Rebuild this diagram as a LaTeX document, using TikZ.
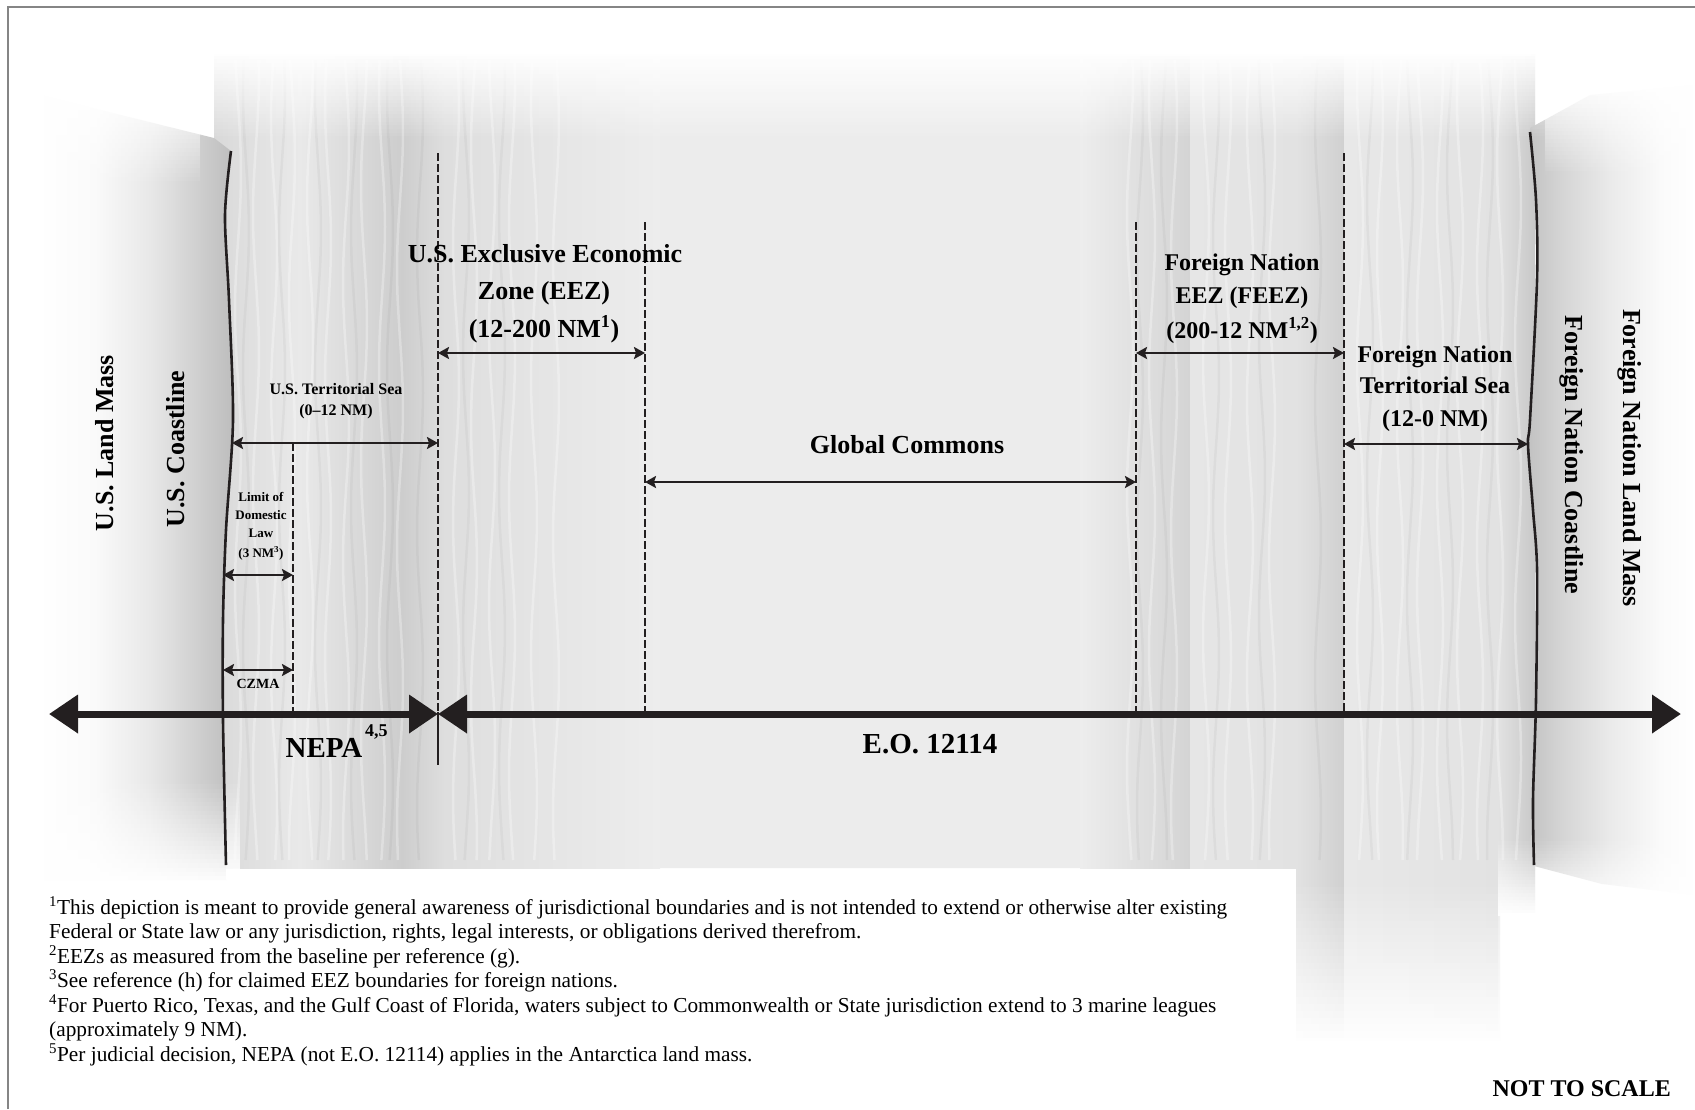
\documentclass[tikz,border=0pt]{standalone}
\usepackage{fontspec}
\setmainfont{Liberation Serif}
\usetikzlibrary{arrows.meta}
\definecolor{ink}{HTML}{231F20}
\definecolor{seabase}{HTML}{ECECEC}
\definecolor{framegray}{HTML}{858585}
\newcommand\fsz[1]{\fontsize{#1}{#1}\selectfont}
% white fade made of strips: x1,y1,x2,y2 ; \fadetop = white at top, \fadebot = white at bottom
\newcommand\fadetop[4]{%
  \foreach \i in {0,...,23}{%
    \pgfmathsetmacro\op{1-(\i+0.5)/24}%
    \fill[white, fill opacity=\op] (#1,{#2+(#4-#2)*\i/24}) rectangle (#3,{#2+(#4-#2)*(\i+1)/24});}}
\newcommand\fadebot[4]{%
  \foreach \i in {0,...,23}{%
    \pgfmathsetmacro\op{(\i+0.5)/24}%
    \fill[white, fill opacity=\op] (#1,{#2+(#4-#2)*\i/24}) rectangle (#3,{#2+(#4-#2)*(\i+1)/24});}}
\newcommand\hsh[6]{\shade[left color={rgb,255:red,#5;green,#5;blue,#5}, right color={rgb,255:red,#6;green,#6;blue,#6}] (#1,#2) rectangle (#3,#4);}
\begin{document}
\begin{tikzpicture}[x=1pt,y=-1pt,
  bigtxt/.style={font=\fsz{26}\bfseries, inner sep=0pt},
  midtxt/.style={font=\fsz{24}\bfseries, inner sep=0pt},
  smalltxt/.style={font=\fsz{16}\bfseries, inner sep=0pt},
  tinytxt/.style={font=\fsz{13}\bfseries, inner sep=0pt},
  notetxt/.style={font=\fsz{21.3}, inner sep=0pt, anchor=base west},
  tharrow/.style={draw=ink, line width=2.6pt, {Stealth[length=11pt,width=12pt,inset=2pt]}-{Stealth[length=11pt,width=12pt,inset=2pt]}},
  bdash/.style={draw=ink, line width=2.3pt, dash pattern=on 7.5pt off 3.5pt},
  axisarr/.style={draw=ink, line width=7pt, {Triangle[length=29pt,width=37pt]}-{Triangle[length=29pt,width=37pt]}},
  coast/.style={draw=ink, line width=2.6pt},
  wave/.style={white, opacity=.3, line width=2.5pt},
  dwave/.style={black, opacity=.035, line width=2.5pt}]
% page
\fill[white] (0,0) rectangle (1695,1109);
\useasboundingbox (0,0) rectangle (1695,1109);
% ---------- sea ----------
\fill[seabase] (214,54) -- (1535,54) -- (1535,912) -- (1500,912) -- (1500,1040) -- (1296,1040) -- (1296,868) -- (214,868) -- cycle;
\hsh{214}{54}{300}{868}{217}{233}
\hsh{300}{54}{402}{868}{233}{205}
\hsh{402}{54}{445}{868}{205}{222}
\hsh{445}{54}{660}{868}{222}{237}
\hsh{1080}{54}{1190}{868}{237}{212}
\hsh{1190}{54}{1296}{868}{230}{226}
\hsh{1296}{54}{1344}{1040}{226}{208}
\hsh{1344}{54}{1498}{1040}{232}{226}
\hsh{1498}{54}{1535}{912}{226}{200}
% wavy stripes
\foreach \sx in {238,256,274,292,310,328,346,364,382,400,456,474,492,512,534,556,1130,1152,1174,1206,1228,1250,1272,1360,1380,1400,1420,1440,1460,1480,1500,1518}
  \draw[wave] plot[variable=\t, domain=60:860, samples=25, smooth] ({\sx+3*sin(\t*1.3+\sx*7)}, \t);
\foreach \sx in {246,282,318,354,390,420,466,502,1140,1164,1216,1262,1318,1370,1410,1450,1490}
  \draw[dwave] plot[variable=\t, domain=60:860, samples=25, smooth] ({\sx+3*sin(\t*1.3+\sx*5)}, \t);
% ---------- land masses ----------
\begin{scope}
  \clip (40,95) -- (214,138) -- (231,151) -- (225,215) -- (229,300) -- (233,420) -- (226,530) -- (223,620) -- (223,720) -- (226,880) -- (40,880) -- cycle;
  \hsh{38}{80}{95}{890}{255}{250}
  \hsh{95}{80}{150}{890}{250}{232}
  \hsh{150}{80}{200}{890}{232}{206}
  \hsh{200}{80}{236}{890}{206}{188}
\end{scope}
\begin{scope}
  \clip (1530,128) -- (1590,95) -- (1695,85) -- (1695,895) -- (1602,884) -- (1534,866) -- (1533,800) -- (1536,700) -- (1537,570) -- (1533,510) -- (1528,445) -- (1530,420) -- (1537,280) -- (1536,200) -- cycle;
  \hsh{1525}{80}{1560}{900}{192}{212}
  \hsh{1560}{80}{1610}{900}{212}{234}
  \hsh{1610}{80}{1660}{900}{234}{250}
  \hsh{1660}{80}{1696}{900}{250}{255}
\end{scope}
% fades
\fadetop{200}{52}{1545}{140}
\fadetop{30}{85}{200}{185}
\fadetop{1545}{80}{1695}{175}
\fadebot{30}{780}{240}{885}
\fadebot{1296}{880}{1545}{1045}
\fadebot{1498}{838}{1695}{916}
% ---------- frame ----------
\draw[framegray, line width=2pt] (8,1109) -- (8,7) -- (1695,7);
% ---------- coastlines ----------
\draw[coast] plot[smooth] coordinates {(231,151) (225,215) (229,300) (233,420) (226,530) (223,620) (223,720) (226,865)};
\draw[coast] plot[smooth] coordinates {(1530,132) (1536,200) (1537,280) (1530,420) (1528,445) (1533,510) (1537,570) (1536,700) (1533,800) (1534,865)};
% ---------- boundaries ----------
\coordinate (czTop) at (293,443);  \coordinate (czBot) at (293,712);
\coordinate (tsTop) at (438,153);  \coordinate (tsBot) at (438,712);
\coordinate (tsLow) at (438,765);
\coordinate (ezTop) at (645,222);  \coordinate (ezBot) at (645,712);
\coordinate (fzTop) at (1136,222); \coordinate (fzBot) at (1136,712);
\coordinate (ftTop) at (1344,153); \coordinate (ftBot) at (1344,712);
\draw[bdash] (czTop) -- (czBot);
\draw[bdash] (tsTop) -- (tsBot);
\draw[draw=ink, line width=2.3pt] (tsBot) -- (tsLow);
\draw[bdash] (ezTop) -- (ezBot);
\draw[bdash] (fzTop) -- (fzBot);
\draw[bdash] (ftTop) -- (ftBot);
% ---------- span arrows ----------
\coordinate (usTsL) at (232,443); \coordinate (usTsR) at (438,443);
\coordinate (dlL) at (223,575);   \coordinate (dlR) at (293,575);
\coordinate (czL) at (223,670);   \coordinate (czR) at (293,670);
\coordinate (eezL) at (438,353);  \coordinate (eezR) at (645,353);
\coordinate (gcL) at (645,482);   \coordinate (gcR) at (1136,482);
\coordinate (feL) at (1136,353);  \coordinate (feR) at (1344,353);
\coordinate (ftL) at (1344,444);  \coordinate (ftR) at (1528,444);
\draw[tharrow] (usTsL) -- (usTsR);
\draw[tharrow] (dlL) -- (dlR);
\draw[tharrow] (czL) -- (czR);
\draw[tharrow] (eezL) -- (eezR);
\draw[tharrow] (gcL) -- (gcR);
\draw[tharrow] (feL) -- (feR);
\draw[tharrow] (ftL) -- (ftR);
% ---------- main axis ----------
\coordinate (axL) at (49,714); \coordinate (axM) at (438,714); \coordinate (axR) at (1681,714);
\draw[axisarr] (axL) -- (axM);
\draw[axisarr] (axM) -- (axR);
% ---------- labels ----------
\node[bigtxt, rotate=90] (usland) at (105,443) {U.S. Land Mass};
\node[bigtxt, rotate=90] (uscoast) at (176,449) {U.S. Coastline};
\node[bigtxt, rotate=-90] (fnland) at (1630,458) {Foreign Nation Land Mass};
\node[bigtxt, rotate=-90] (fncoast) at (1572,455) {Foreign Nation Coastline};
\node[smalltxt, anchor=base] (ts1) at (336,394) {U.S. Territorial Sea};
\node[smalltxt, anchor=base] (ts2) at (336,415) {(0–12 NM)};
\node[tinytxt, anchor=base] (dl1) at (261,501) {Limit of};
\node[tinytxt, anchor=base] (dl2) at (261,519) {Domestic};
\node[tinytxt, anchor=base] (dl3) at (261,537) {Law};
\node[tinytxt, anchor=base] (dl4) at (261,557) {(3 NM\textsuperscript{3})};
\node[font=\fsz{14}\bfseries, inner sep=0pt, anchor=base] (czma) at (258,688) {CZMA};
\node[bigtxt, anchor=base] (eez1) at (545,262) {U.S. Exclusive Economic};
\node[bigtxt, anchor=base] (eez2) at (544,299) {Zone (EEZ)};
\node[bigtxt, anchor=base] (eez3) at (544,337) {(12-200 NM\textsuperscript{1})};
\node[midtxt, anchor=base] (fe1) at (1242,270) {Foreign Nation};
\node[midtxt, anchor=base] (fe2) at (1242,303) {EEZ (FEEZ)};
\node[midtxt, anchor=base] (fe3) at (1242,338) {(200-12 NM\textsuperscript{1,2})};
\node[midtxt, anchor=base] (ft1) at (1435,362) {Foreign Nation};
\node[midtxt, anchor=base] (ft2) at (1435,393) {Territorial Sea};
\node[midtxt, anchor=base] (ft3) at (1435,426) {(12-0 NM)};
\node[bigtxt, anchor=base] (gc) at (907,453) {Global Commons};
\node[font=\fsz{29}\bfseries, inner sep=0pt, anchor=base] (nepa) at (324,757) {NEPA};
\node[font=\fsz{18}\bfseries, inner sep=0pt, anchor=base west] (nepasup) at (365,736) {4,5};
\node[font=\fsz{29}\bfseries, inner sep=0pt, anchor=base] (eo) at (930,753) {E.O. 12114};
% footnotes
\node[notetxt] (n1) at (49,914) {\textsuperscript{1}This depiction is meant to provide general awareness of jurisdictional boundaries and is not intended to extend or otherwise alter existing};
\node[notetxt] (n2) at (49,938) {Federal or State law or any jurisdiction, rights, legal interests, or obligations derived therefrom.};
\node[notetxt] (n3) at (49,963) {\textsuperscript{2}EEZs as measured from the baseline per reference (g).};
\node[notetxt] (n4) at (49,987) {\textsuperscript{3}See reference (h) for claimed EEZ boundaries for foreign nations.};
\node[notetxt] (n5) at (49,1012) {\textsuperscript{4}For Puerto Rico, Texas, and the Gulf Coast of Florida, waters subject to Commonwealth or State jurisdiction extend to 3 marine leagues};
\node[notetxt] (n6) at (49,1036) {(approximately 9 NM).};
\node[notetxt] (n7) at (49,1061) {\textsuperscript{5}Per judicial decision, NEPA (not E.O. 12114) applies in the Antarctica land mass.};
\node[midtxt, anchor=base east] (nts) at (1671,1096) {NOT TO SCALE};
\end{tikzpicture}
\end{document}
